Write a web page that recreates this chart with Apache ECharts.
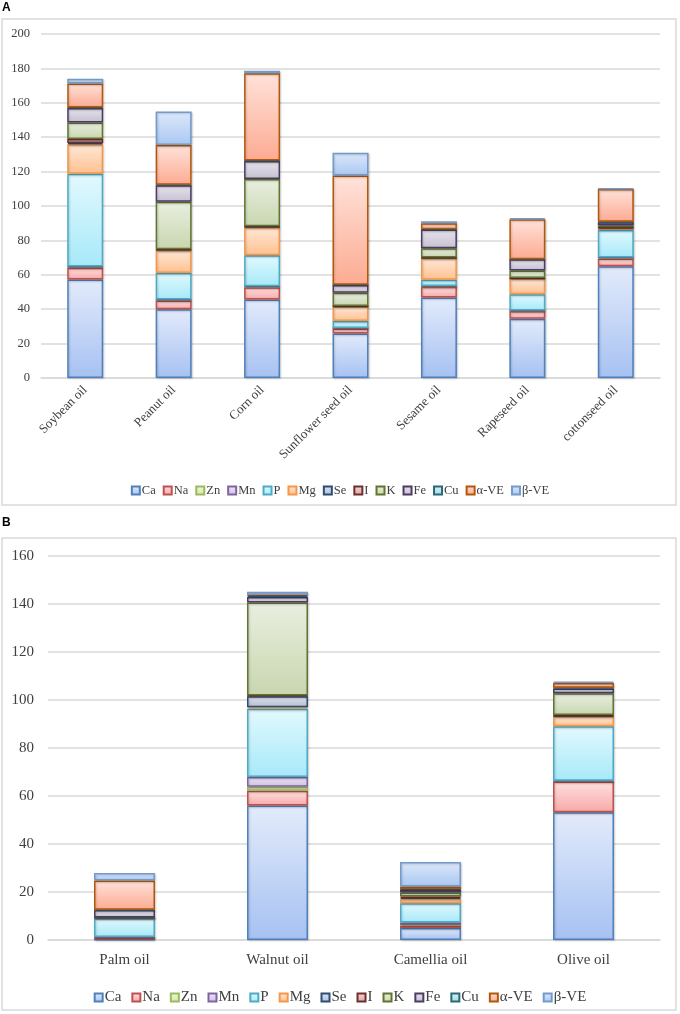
<!DOCTYPE html>
<html>
<head>
<meta charset="utf-8">
<script src="https://cdn.jsdelivr.net/npm/echarts@6/dist/echarts.min.js"></script>
<style>
  html, body { margin: 0; padding: 0; background: #fff; }
  #main { width: 680px; height: 1014px; }
</style>
</head>
<body>
<div id="main"></div>
<script>
// --- data ---
const elements = ['Ca', 'Na', 'Zn', 'Mn', 'P', 'Mg', 'Se', 'I', 'K', 'Fe', 'Cu', 'α-VE', 'β-VE'];

// panel A
const oilsA = ['Soybean oil', 'Peanut oil', 'Corn oil', 'Sunflower seed oil', 'Sesame oil', 'Rapeseed oil', 'cottonseed oil'];
const caA   = [57.3, 40, 45.7, 25.9, 46.8, 34.4, 65];
const naA   = [6.8, 5, 7, 2.9, 6.3, 4.6, 4.5];
const znA   = [0.6, 0.5, 0.5, 0.2, 0.3, 0.2, 0.5];
const mnA   = [0.1, 0.1, 0.1, 0.1, 0.1, 0.1, 0.1];
const pA    = [54, 15.5, 18, 4, 3.6, 9.4, 16];
const mgA   = [17, 13.2, 16.3, 8.4, 12.6, 9.1, 1];
const seA   = [0.8, 0.3, 0.3, 0.2, 0.2, 0.2, 0.3];
const iA    = [2.3, 0.3, 0.3, 0.2, 0.2, 0.2, 0.2];
const kA    = [9.7, 27.5, 27.5, 7.6, 5.3, 4.3, 1];
const feA   = [8.4, 9.7, 10.5, 4.6, 10.9, 6.5, 2];
const cuA   = [0.3, 0.3, 0.2, 0.1, 0.2, 0.1, 0.3];
const aveA  = [13.9, 23, 50.8, 63.5, 3.4, 23.2, 19];
const bveA  = [2.8, 19.5, 1.5, 13.3, 1.2, 0.6, 0.2];
const ticksA = [0, 200, 20]; // min, max, step

// panel B
const oilsB = ['Palm oil', 'Walnut oil', 'Camellia oil', 'Olive oil'];
const caB   = [0.2, 56, 5, 53.2];
const naB   = [1.0, 6.2, 1, 12.8];
const znB   = [0, 1.7, 0.3, 0.2];
const mnB   = [0, 4, 1, 0.2];
const pB    = [7.9, 28.5, 8, 22.7];
const mgB   = [0.1, 0.6, 1.8, 4];
const seB   = [0.1, 4.6, 0.5, 0.2];
const iB    = [0.1, 0.3, 0.5, 0.4];
const kB    = [0, 38.7, 1.7, 9.1];
const feB   = [3.1, 2.3, 1.2, 2];
const cuB   = [0.1, 0.6, 0.3, 0.3];
const aveB  = [12.2, 0.3, 1, 2];
const bveB  = [3.1, 1.3, 10.2, 0.5];
const ticksB = [0, 160, 20];

// --- styles (office palette, light gradient fills) ---
const edge = ['#4F81BD', '#C0504D', '#9BBB59', '#8064A2', '#4BACC6', '#F79646',
              '#2C4D75', '#772C2A', '#5F7530', '#4D3B62', '#276A7C', '#B65708', '#729ACA'];
const fillTop = ['#e3ebfb', '#ffe0e0', '#eff6e2', '#eee7f7', '#e2f9fe', '#ffe7d6',
                 '#dfe4ee', '#eddcdc', '#e9efe0', '#e6e3ec', '#ddf0f4', '#ffe2da', '#dde8fa'];
const fillBot = ['#a6c1f2', '#f7a9a8', '#d2e5ad', '#cdbfe2', '#a7e9f9', '#ffc190',
                 '#b1bdd2', '#cfa9a8', '#c8d6af', '#c6c0d2', '#aad6df', '#fcab92', '#aac7f2'];

const serif = '"Liberation Serif", "Times New Roman", serif';
const txt = '#404040';

function grad(i) {
    return new echarts.graphic.LinearGradient(0, 0, 0, 1, [
        { offset: 0, color: fillTop[i] }, { offset: 1, color: fillBot[i] }
    ]);
}

function makeSeries(cols, idx, barWidth) {
    return elements.map((name, i) => ({
        name, type: 'bar', stack: 'oil' + idx,
        xAxisIndex: idx, yAxisIndex: idx,
        barWidth, data: cols[i],
        itemStyle: {
            color: grad(i), borderColor: edge[i], borderWidth: 1.5,
            shadowBlur: 2, shadowColor: 'rgba(0,0,0,0.18)', shadowOffsetX: 1, shadowOffsetY: 1
        },
        emphasis: { disabled: true }
    }));
}

const colsA = [caA, naA, znA, mnA, pA, mgA, seA, iA, kA, feA, cuA, aveA, bveA];
const colsB = [caB, naB, znB, mnB, pB, mgB, seB, iB, kB, feB, cuB, aveB, bveB];

function yAxis(idx, ticks, fs, margin) {
    return {
        type: 'value', gridIndex: idx, min: ticks[0], max: ticks[1], interval: ticks[2],
        axisLine: { show: false }, axisTick: { show: false },
        axisLabel: { fontFamily: serif, fontSize: fs, color: txt, margin },
        splitLine: { lineStyle: { color: '#d9d9d9', width: 1.5 } }
    };
}

function xAxis(idx, cats, fs, rotate, margin) {
    return {
        type: 'category', gridIndex: idx, data: cats,
        axisTick: { show: false },
        axisLine: { lineStyle: { color: '#d9d9d9', width: 1.5 } },
        axisLabel: { interval: 0, rotate, fontFamily: serif, fontSize: fs, color: txt, margin }
    };
}

function legend(top, fs, gap) {
    return {
        left: 'center', top, data: elements, icon: 'rect',
        itemWidth: 8, itemHeight: 8, itemGap: gap, selectedMode: false,
        textStyle: { fontFamily: serif, fontSize: fs, color: txt, padding: [0, 0, 0, -3] }
    };
}

const chart = echarts.init(document.getElementById('main'));
chart.setOption({
    animation: false,
    graphic: [
        { type: 'rect', shape: { x: 2, y: 19, width: 674, height: 486 }, style: { fill: 'none', stroke: '#d9d9d9', lineWidth: 1.5 }, z: -10 },
        { type: 'rect', shape: { x: 2, y: 538, width: 674, height: 472 }, style: { fill: 'none', stroke: '#d9d9d9', lineWidth: 1.5 }, z: -10 },
        { type: 'text', left: 2, top: 2, style: { text: 'A', font: 'bold 12px "Liberation Sans", Arial, sans-serif', fill: '#000' } },
        { type: 'text', left: 2, top: 517, style: { text: 'B', font: 'bold 12px "Liberation Sans", Arial, sans-serif', fill: '#000' } }
    ],
    grid: [
        { left: 41, top: 34, width: 619, height: 344 },
        { left: 48, top: 556, width: 612, height: 384 }
    ],
    xAxis: [xAxis(0, oilsA, 13, 45, 10), xAxis(1, oilsB, 15, 0, 13)],
    yAxis: [yAxis(0, ticksA, 12.5, 11), yAxis(1, ticksB, 15, 14)],
    legend: [legend(479, 12.5, 7), legend(985, 15, 10)],
    series: [...makeSeries(colsA, 0, 36), ...makeSeries(colsB, 1, 61)]
});
</script>
</body>
</html>
